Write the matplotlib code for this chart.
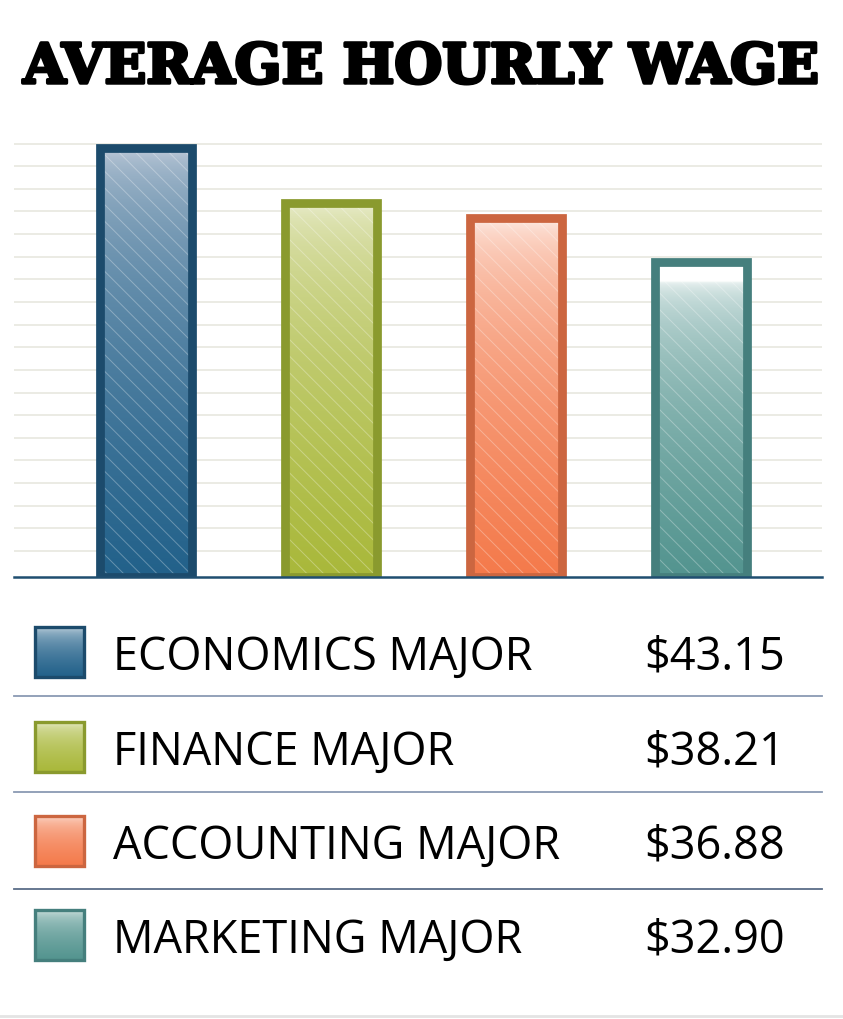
import numpy as np
import matplotlib
matplotlib.use("Agg")
import matplotlib.pyplot as plt
from matplotlib.colors import to_rgba
from matplotlib.patches import Rectangle
import matplotlib.patheffects as pe

# data
majors = ["ECONOMICS MAJOR", "FINANCE MAJOR", "ACCOUNTING MAJOR", "MARKETING MAJOR"]
wages = [43.15, 38.21, 36.88, 32.90]
wage_labels = ["$43.15", "$38.21", "$36.88", "$32.90"]
border_colors = ["#1c4b6c", "#8a9a2e", "#cc6640", "#457f7d"]
top_colors = ["#d3d8e3", "#eef0d8", "#ffffff", "#ffffff"]
bottom_colors = ["#22618a", "#a9b83a", "#f47a4b", "#53948f"]
gammas = [0.4, 0.45, 0.38, 0.38]
holds = [0.0, 0.0, 0.0, 0.06]   # white part at top before the fade starts

W, H = 843, 1019
BASE = 4.8        # axis floor
TOP = 43.52       # top gridline
GRID_STEP = (TOP - BASE) * 408 / 434 / 18

plt.rcParams["hatch.linewidth"] = 0.7


def gradient(c_top, c_bot, gamma, hold=0.0, n=300):
    t = np.clip((np.linspace(0, 1, n) - hold) / (1 - hold), 0, 1) ** gamma
    a, b = np.array(to_rgba(c_top)), np.array(to_rgba(c_bot))
    return (a[None, :] * (1 - t[:, None]) + b[None, :] * t[:, None])[:, None, :]


fig = plt.figure(figsize=(W / 100, H / 100), dpi=100)
fig.patch.set_facecolor("white")

ax = fig.add_axes([14 / W, 1 - 577 / H, (822 - 14) / W, (577 - 143) / H])
x = np.arange(len(wages))
bw = 0.50
for i, v in enumerate(wages):
    ax.imshow(gradient(top_colors[i], bottom_colors[i], gammas[i], holds[i]),
              extent=[x[i] - bw / 2, x[i] + bw / 2, BASE, v],
              aspect="auto", origin="upper", zorder=2, interpolation="bilinear")
ax.bar(x, np.array(wages) - BASE, bw, bottom=BASE, fill=False,
       edgecolor=(1, 1, 1, 0.3), hatch="\\\\", linewidth=0, zorder=3)
ax.bar(x, np.array(wages) - BASE, bw, bottom=BASE, fill=False,
       edgecolor=border_colors, linewidth=6.3, zorder=4)

ax.set_xlim(-0.7135, 3.654)
ax.set_ylim(BASE, TOP + 0.05)
ax.set_yticks(TOP - GRID_STEP * np.arange(19))
ax.set_xticks([])
ax.yaxis.grid(True, color="#ebebe4", linewidth=1.4, zorder=0)
ax.set_axisbelow(True)
ax.tick_params(axis="y", length=0, labelleft=False)
for s in ["top", "right", "left"]:
    ax.spines[s].set_visible(False)
ax.spines["bottom"].set_color("#1f4e70")
ax.spines["bottom"].set_linewidth(1.8)
ax.spines["bottom"].set_zorder(6)

# legend table
lax = fig.add_axes([0, 0, 1, 1], zorder=-1)
lax.axis("off")
row_y = [652, 747, 841, 935]
for i, yc in enumerate(row_y):
    lax.imshow(gradient("#ffffff", bottom_colors[i], 0.3),
               extent=[35, 84, yc + 25, yc - 25], aspect="auto", origin="upper",
               interpolation="bilinear")
    lax.add_patch(Rectangle((35, yc - 25), 49, 50, fill=False,
                            edgecolor=border_colors[i], linewidth=2.4))
    lax.text(113, yc, majors[i], fontsize=32.5, family="Open Sans",
             ha="left", va="center_baseline", color="black")
    lax.text(785, yc, wage_labels[i], fontsize=32.5, family="Open Sans",
             ha="right", va="center_baseline", color="black")
for ys, c in zip([696, 792, 889], ["#8a9ab3", "#8a9ab3", "#5a6d88"]):
    lax.plot([14, 822], [ys, ys], color=c, linewidth=1.3)
lax.plot([0, W], [1016, 1016], color="#e4e4e4", linewidth=2)
lax.set_xlim(0, W)
lax.set_ylim(H, 0)

title = fig.text(421 / W, 1 - 68 / H, "AVERAGE HOURLY WAGE", fontsize=42,
                 family="DejaVu Serif", weight="bold", ha="center", va="center",
                 path_effects=[pe.withStroke(linewidth=2.5, foreground="black")])
fig.canvas.draw()
ext = title.get_window_extent(fig.canvas.get_renderer())
title.set_fontsize(42 * 796 / ext.width)

fig.savefig("out.png", dpi=100)
